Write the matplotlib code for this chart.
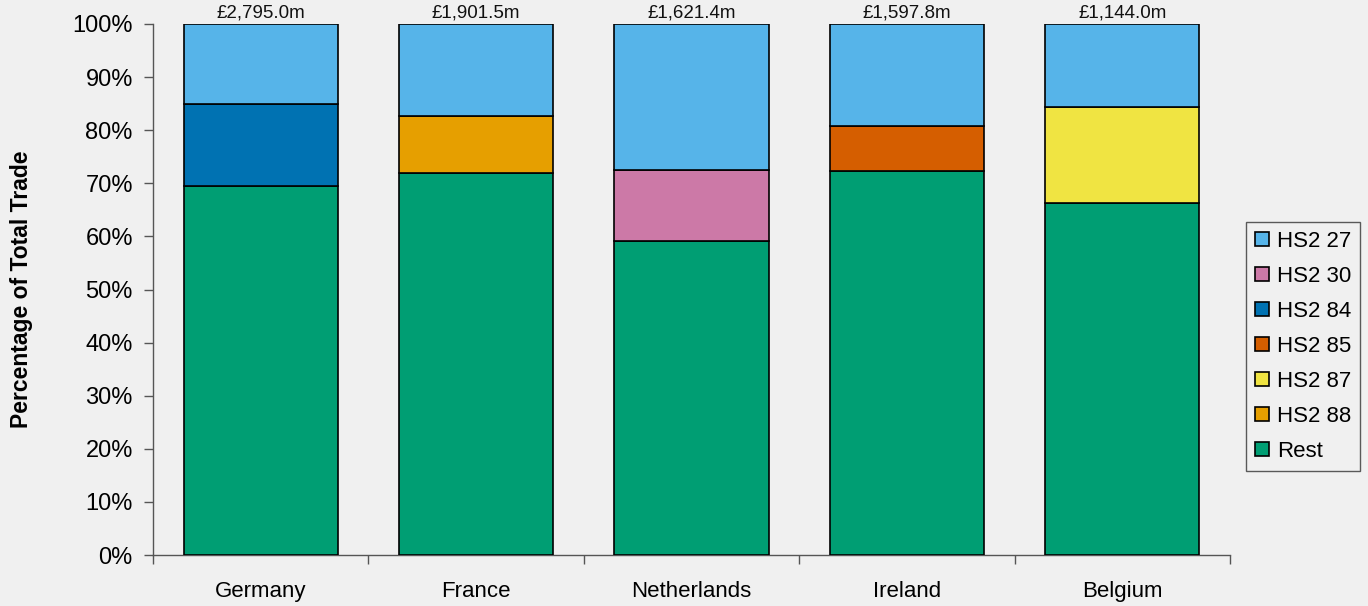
import matplotlib
matplotlib.use("Agg")
import matplotlib.pyplot as plt
import numpy as np
from matplotlib.ticker import FuncFormatter, FixedLocator

plt.rcParams["font.family"] = ["Liberation Sans", "DejaVu Sans"]

countries = ["Germany", "France", "Netherlands", "Ireland", "Belgium"]
totals = ["£2,795.0m", "£1,901.5m", "£1,621.4m", "£1,597.8m", "£1,144.0m"]

# Share of total trade (%) per commodity group, stacked bottom to top
rest = [69.5, 71.9, 59.1, 72.3, 66.3]
hs2_88 = [0.0, 10.8, 0.0, 0.0, 0.0]
hs2_87 = [0.0, 0.0, 0.0, 0.0, 18.1]
hs2_85 = [0.0, 0.0, 0.0, 8.5, 0.0]
hs2_84 = [15.4, 0.0, 0.0, 0.0, 0.0]
hs2_30 = [0.0, 0.0, 13.4, 0.0, 0.0]
hs2_27 = [15.1, 17.3, 27.5, 19.2, 15.6]

series = [
    ("Rest", rest, "#009E73"),
    ("HS2 88", hs2_88, "#E69F00"),
    ("HS2 87", hs2_87, "#F0E442"),
    ("HS2 85", hs2_85, "#D55E00"),
    ("HS2 84", hs2_84, "#0072B2"),
    ("HS2 30", hs2_30, "#CC79A7"),
    ("HS2 27", hs2_27, "#56B4E9"),
]

bg = "#f0f0f0"
fig = plt.figure(figsize=(13.68, 6.06), dpi=100, facecolor=bg)
ax = fig.add_axes([153 / 1368, 1 - 555 / 606, 1077 / 1368, 531 / 606], facecolor=bg)

x = np.arange(len(countries))
width = 0.715
bottom = np.zeros(len(countries))
handles = {}
for name, vals, color in series:
    vals = np.asarray(vals, dtype=float)
    mask = vals > 0
    bars = ax.bar(x[mask], vals[mask], width, bottom=bottom[mask], color=color,
                  edgecolor="black", linewidth=1.2, label=name, zorder=3)
    handles[name] = bars
    bottom += vals

for xi, lab in zip(x, totals):
    ax.text(xi, 100.4, lab, ha="center", va="bottom", fontsize=13.5, color="#111111")

ax.set_xlim(-0.5, len(countries) - 0.5)
ax.set_ylim(0, 100)
ax.yaxis.set_major_locator(FixedLocator(np.arange(0, 101, 10)))
ax.yaxis.set_major_formatter(FuncFormatter(lambda v, p: f"{v:.0f}%"))
ax.set_xticks(np.arange(-0.5, len(countries), 1.0))
ax.set_xticklabels([])
ax.set_xticks(x, minor=True)
ax.set_xticklabels(countries, minor=True)
ax.tick_params(axis="x", which="major", direction="out", length=6.5, width=1, color="#555555")
ax.tick_params(axis="x", which="minor", length=0, pad=19, labelsize=16)
ax.tick_params(axis="y", direction="out", length=6.5, width=1, color="#555555", labelsize=17, pad=8)

for s in ("top", "right"):
    ax.spines[s].set_visible(False)
for s in ("left", "bottom"):
    ax.spines[s].set_color("#555555")
    ax.spines[s].set_linewidth(1)

ax.set_ylabel("Percentage of Total Trade", fontsize=16.5, fontweight="bold", labelpad=28)

order = ["HS2 27", "HS2 30", "HS2 84", "HS2 85", "HS2 87", "HS2 88", "Rest"]
leg = fig.legend([handles[n] for n in order], order, loc="upper left",
                 bbox_to_anchor=(1246 / 1368, 1 - 222 / 606), fontsize=16,
                 frameon=True, fancybox=False, edgecolor="#333333", facecolor=bg,
                 handlelength=0.62, handleheight=0.62, handletextpad=0.36,
                 labelspacing=0.63, borderpad=0.4, borderaxespad=0)
leg.get_frame().set_linewidth(1)

fig.savefig("out.png", dpi=100, facecolor=bg)
